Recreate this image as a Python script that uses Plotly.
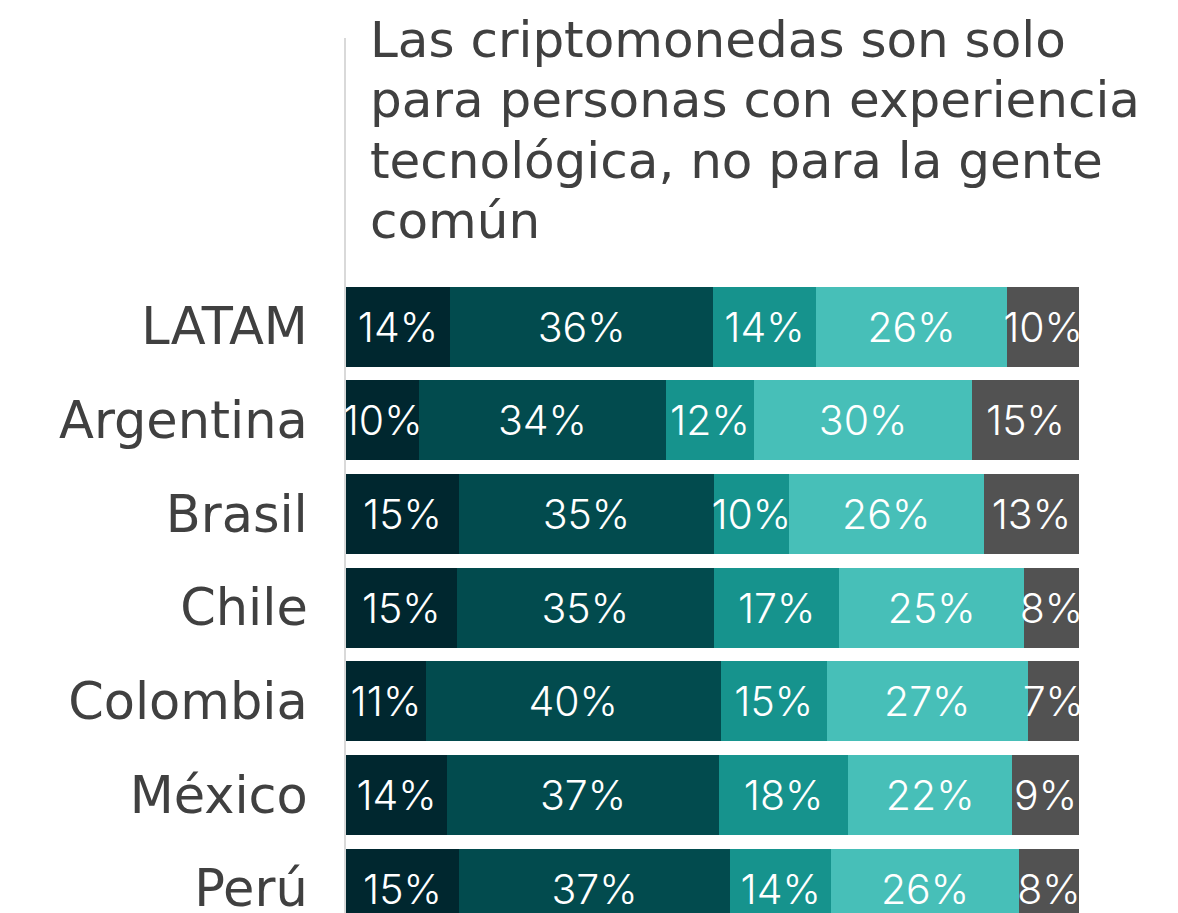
import plotly.graph_objects as go

categories = ["LATAM", "Argentina", "Brasil", "Chile", "Colombia", "México", "Perú"]
series_names = ["S1", "S2", "S3", "S4", "S5"]
s1 = [14.2, 10.0, 15.4, 15.1, 10.9, 13.8, 15.4]
s2 = [35.9, 33.6, 34.8, 35.1, 40.2, 37.1, 37.0]
s3 = [14.0, 12.1, 10.2, 17.1, 14.5, 17.6, 13.8]
s4 = [26.1, 29.7, 26.6, 25.2, 27.4, 22.4, 25.6]
s5 = [9.8, 14.6, 13.0, 7.5, 7.0, 9.1, 8.2]
l1 = ["14%", "10%", "15%", "15%", "11%", "14%", "15%"]
l2 = ["36%", "34%", "35%", "35%", "40%", "37%", "37%"]
l3 = ["14%", "12%", "10%", "17%", "15%", "18%", "14%"]
l4 = ["26%", "30%", "26%", "25%", "27%", "22%", "26%"]
l5 = ["10%", "15%", "13%", "8%", "7%", "9%", "8%"]
colors = ["#00272F", "#024B4E", "#16938D", "#47BFB8", "#525252"]
title_lines = ["Las criptomonedas son solo", "para personas con experiencia",
               "tecnológica, no para la gente", "común"]

FONT = "DejaVu Sans"
LABEL_FONT = "Inter"
fig = go.Figure()
for name, vals, labs, col in zip(series_names, [s1, s2, s3, s4, s5], [l1, l2, l3, l4, l5], colors):
    fig.add_trace(go.Bar(
        y=categories, x=vals, orientation="h", name=name,
        marker=dict(color=col, line=dict(width=0)),
        text=labs, textposition="inside", insidetextanchor="middle",
        textangle=0, constraintext="none",
        textfont=dict(family=LABEL_FONT, size=41, color="white", weight=300),
        cliponaxis=True,
    ))

annotations = []
for i, line in enumerate(title_lines):
    annotations.append(dict(
        text=line, xref="paper", yref="paper",
        x=(368 - 346) / 733, y=1 - (i * 60.3 + 2) / 875, xanchor="left", yanchor="middle",
        align="left", showarrow=False,
        font=dict(family=FONT, size=50, color="#404040"),
    ))

fig.update_layout(
    barmode="stack",
    bargap=0.146,
    width=1178, height=913,
    margin=dict(l=346, r=99, t=38, b=0, autoexpand=False),
    plot_bgcolor="white", paper_bgcolor="white",
    showlegend=False,
    uniformtext=dict(mode=False),
    xaxis=dict(range=[0, 100], visible=False, fixedrange=True, automargin=False),
    yaxis=dict(
        categoryorder="array", categoryarray=categories,
        range=[6.26, -3.08], autorange=False, automargin=False,
        showline=True, linecolor="#D9D9D9", linewidth=2,
        ticks="outside", ticklen=26, tickcolor="rgba(0,0,0,0)",
        tickfont=dict(family=FONT, size=51, color="#404040"),
        showgrid=False, zeroline=False,
    ),
    annotations=annotations,
)

fig.write_html("out.html", config={"displayModeBar": False},
               post_script="document.body.style.margin='0';document.body.style.overflow='hidden';")
